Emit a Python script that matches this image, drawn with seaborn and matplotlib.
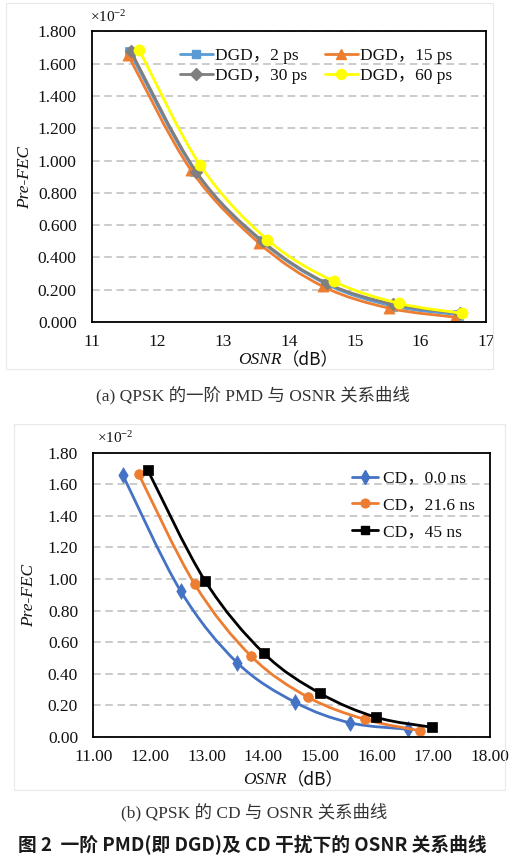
import numpy as np
import pandas as pd
import matplotlib
matplotlib.use("Agg")
import matplotlib.pyplot as plt
import seaborn as sns
from matplotlib.path import Path
from matplotlib.patches import PathPatch, Rectangle
from matplotlib.lines import Line2D

# ---------------- data (Pre-FEC in units of 1e-2) ----------------
# Panel (a): first-order PMD (DGD)
dgd_labels = ["DGD，2 ps", "DGD，15 ps", "DGD，30 ps", "DGD，60 ps"]
osnr_2ps = [11.58, 12.57, 13.58, 14.57, 15.57, 16.58]
fec_2ps = [1.670, 0.935, 0.500, 0.235, 0.100, 0.045]
osnr_15ps = [11.55, 12.51, 13.55, 14.52, 15.53, 16.53]
fec_15ps = [1.654, 0.940, 0.487, 0.220, 0.085, 0.030]
osnr_30ps = [11.59, 12.59, 13.60, 14.58, 15.59, 16.60]
fec_30ps = [1.680, 0.930, 0.500, 0.240, 0.110, 0.055]
osnr_60ps = [11.72, 12.65, 13.67, 14.68, 15.67, 16.64]
fec_60ps = [1.685, 0.970, 0.510, 0.252, 0.116, 0.054]

# Panel (b): CD
cd_labels = ["CD，0.0 ns", "CD，21.6 ns", "CD，45 ns"]
osnr_cd0 = [11.52, 12.54, 13.54, 14.56, 15.53, 16.56]
fec_cd0 = [1.659, 0.925, 0.470, 0.220, 0.090, 0.049]
osnr_cd216 = [11.80, 12.79, 13.79, 14.79, 15.79, 16.76]
fec_cd216 = [1.665, 0.967, 0.510, 0.252, 0.112, 0.040]
osnr_cd45 = [11.96, 12.97, 14.01, 15.00, 15.99, 16.97]
fec_cd45 = [1.690, 0.990, 0.530, 0.277, 0.125, 0.062]

yticks_a = [0.0, 0.2, 0.4, 0.6, 0.8, 1.0, 1.2, 1.4, 1.6, 1.8]
xticks_a = [11, 12, 13, 14, 15, 16, 17]
yticks_b = [0.0, 0.2, 0.4, 0.6, 0.8, 1.0, 1.2, 1.4, 1.6, 1.8]
xticks_b = [11, 12, 13, 14, 15, 16, 17, 18]

# ---------------- style ----------------
sns.set_theme(style="white")
SERIF = ["Liberation Serif", "Noto Sans CJK SC", "DejaVu Sans"]
plt.rcParams["font.family"] = SERIF
plt.rcParams["mathtext.fontset"] = "custom"
plt.rcParams["mathtext.rm"] = "Liberation Serif"
plt.rcParams["mathtext.it"] = "Liberation Serif:italic"
plt.rcParams["axes.unicode_minus"] = False

fig = plt.figure(figsize=(5.30, 8.64), dpi=100)
W, H = 530.0, 864.0


def fig_rect(l, t, r, b):
    return [l / W, 1 - b / H, (r - l) / W, (b - t) / H]


def smooth_path(x, y):
    pts = np.column_stack([x, y]).astype(float)
    n = len(pts)
    verts = [pts[0]]
    codes = [Path.MOVETO]
    for i in range(n - 1):
        p0 = pts[i - 1] if i > 0 else pts[i]
        p1 = pts[i]
        p2 = pts[i + 1]
        p3 = pts[i + 2] if i + 2 < n else pts[i + 1]
        c1 = p1 + (p2 - p0) / 6.0
        c2 = p2 - (p3 - p1) / 6.0
        verts += [c1, c2, p2]
        codes += [Path.CURVE4] * 3
    return Path(verts, codes)


def draw_series(ax, x, y, color, marker, ms, z):
    patch = PathPatch(smooth_path(x, y), facecolor="none", edgecolor=color,
                      lw=2.0, zorder=z, capstyle="round", joinstyle="round")
    ax.add_patch(patch)
    df = pd.DataFrame({"x": x, "y": y})
    sns.scatterplot(data=df, x="x", y="y", marker=marker, s=ms ** 2,
                    color=color, edgecolor=color, linewidth=0.5,
                    ax=ax, zorder=z + 0.5, legend=False)


def style_axes(ax, xlim, ylim, xticks, yticks, xfmt, yfmt):
    ax.set_xlim(*xlim)
    ax.set_ylim(*ylim)
    ax.set_xticks(xticks)
    ax.set_yticks(yticks)
    ax.set_xticklabels([xfmt.format(v) for v in xticks], fontsize=12.5)
    ax.set_yticklabels([yfmt.format(v) for v in yticks], fontsize=12.5)
    ax.tick_params(axis="x", direction="inout", length=7, width=1.2,
                   color="black", pad=5, labelcolor="#111111")
    ax.tick_params(axis="y", length=0, pad=11, labelcolor="#111111")
    ax.yaxis.grid(True, linestyle=(0, (5, 3)), color="#BDBDBD", lw=1.1)
    ax.xaxis.grid(False)
    for s in ax.spines.values():
        s.set_color("black")
        s.set_linewidth(1.3)
        s.set_zorder(20)
    ax.set_facecolor("white")
    ax.set_xlabel("")
    ax.set_ylabel("")


def osnr_label(xc, yc):
    fig.text(xc / W, 1 - yc / H, "OSNR", fontsize=12.5, style="italic",
             ha="right", va="center", color="#111111")
    fig.text(xc / W, 1 - yc / H, "（dB）", fontsize=12.5,
             family=["Noto Sans CJK SC", "DejaVu Sans"],
             ha="left", va="center", color="#111111")


# ---------------- panel (a) ----------------
ax1 = fig.add_axes(fig_rect(92, 31.5, 486, 322))
colors_a = ["#5B9BD5", "#ED7D31", "#7F7F7F", "#FFFF00"]
markers_a = ["s", "^", "D", "o"]
ms_a = [7, 8, 6.5, 8]
series_a = [(osnr_2ps, fec_2ps), (osnr_15ps, fec_15ps),
            (osnr_30ps, fec_30ps), (osnr_60ps, fec_60ps)]
for i, (x, y) in enumerate(series_a):
    draw_series(ax1, x, y, colors_a[i], markers_a[i], ms_a[i], 5 + 2 * i)
style_axes(ax1, (11, 17), (0, 1.8), xticks_a, yticks_a, "{:d}", "{:.3f}")

order_a = [0, 2, 1, 3]  # row-wise: 2ps, 15ps / 30ps, 60ps
handles_a = [Line2D([], [], color=colors_a[i], marker=markers_a[i],
                    ms=ms_a[i] * 0.9, lw=2.0) for i in order_a]
leg1 = ax1.legend(handles_a, [dgd_labels[i] for i in order_a], ncol=2,
                  loc="upper left", bbox_to_anchor=(0.205, 0.968),
                  frameon=False, fontsize=12.5,
                  handlelength=1.9, handletextpad=0.15, columnspacing=1.0,
                  labelspacing=0.25, borderaxespad=0.0)
for t in leg1.get_texts():
    t.set_color("#111111")

fig.text(90 / W, 1 - 17 / H, "×10$^{-2}$", fontsize=11, ha="left",
         va="center", color="#111111")
fig.text(25 / W, 1 - 177 / H, "Pre-FEC", fontsize=12.5, style="italic",
         rotation=90, ha="center", va="center", color="#111111")
osnr_label(282, 360)
fig.text(253 / W, 1 - 395 / H, "(a) QPSK 的一阶 PMD 与 OSNR 关系曲线",
         fontsize=12.5, ha="center", va="center", color="#333333")

# ---------------- panel (b) ----------------
ax2 = fig.add_axes(fig_rect(93.3, 452.7, 490, 737))
colors_b = ["#4472C4", "#ED7D31", "#000000"]
markers_b = ["d", "o", "s"]
ms_b = [8, 7, 7]
series_b = [(osnr_cd0, fec_cd0), (osnr_cd216, fec_cd216), (osnr_cd45, fec_cd45)]
for i, (x, y) in enumerate(series_b):
    draw_series(ax2, x, y, colors_b[i], markers_b[i], ms_b[i], 5 + 2 * i)
style_axes(ax2, (11, 18), (0, 1.8), xticks_b, yticks_b, "{:.2f}", "{:.2f}")

handles_b = [Line2D([], [], color=colors_b[i], marker=markers_b[i],
                    ms=ms_b[i] * 0.9, lw=2.0) for i in range(3)]
leg2 = ax2.legend(handles_b, cd_labels, ncol=1, loc="upper left",
                  bbox_to_anchor=(0.635, 0.962), frameon=False, fontsize=12.5,
                  handlelength=1.5, handletextpad=0.25, labelspacing=0.62,
                  borderaxespad=0.0)
for t in leg2.get_texts():
    t.set_color("#111111")

fig.text(97 / W, 1 - 438 / H, "×10$^{-2}$", fontsize=11, ha="left",
         va="center", color="#111111")
fig.text(29 / W, 1 - 595 / H, "Pre-FEC", fontsize=12.5, style="italic",
         rotation=90, ha="center", va="center", color="#111111")
osnr_label(287, 780)
fig.text(254 / W, 1 - 812 / H, "(b) QPSK 的 CD 与 OSNR 关系曲线",
         fontsize=12.5, ha="center", va="center", color="#333333")

fig.text(18 / W, 1 - 845 / H, "图 2  一阶 PMD(即 DGD)及 CD 干扰下的 OSNR 关系曲线",
         fontsize=13.5, fontweight="bold", family=["Noto Sans CJK SC", "DejaVu Sans"],
         ha="left", va="center", color="#1A1A1A")

# faint chart-area frames
fig.add_artist(Rectangle((6 / W, 1 - 369 / H), (493 - 6) / W, (369 - 3) / H,
                         transform=fig.transFigure, fill=False,
                         ec="#E8E8E8", lw=0.8))
fig.add_artist(Rectangle((14 / W, 1 - 790 / H), (505 - 14) / W, (790 - 424) / H,
                         transform=fig.transFigure, fill=False,
                         ec="#E8E8E8", lw=0.8))

fig.savefig("out.png", dpi=100, facecolor="white")
